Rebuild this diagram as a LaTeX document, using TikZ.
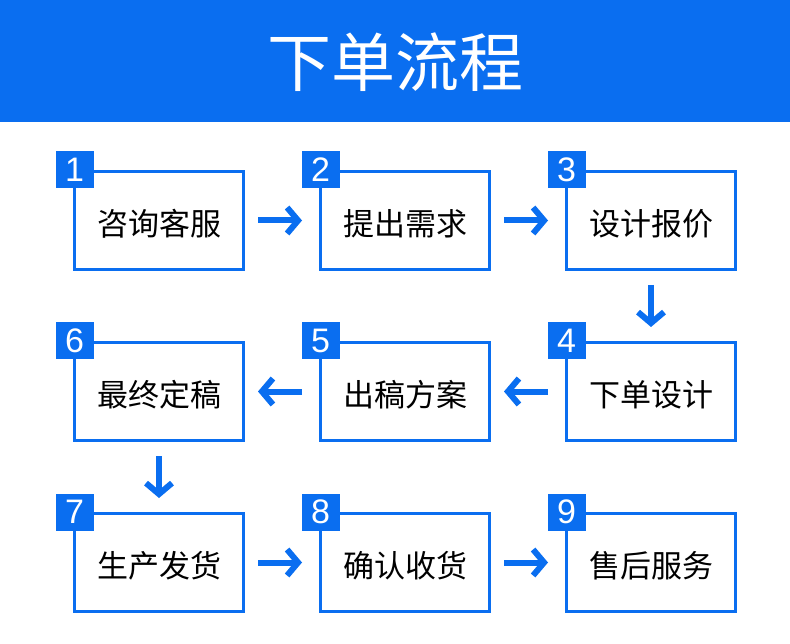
\documentclass[tikz,border=0pt]{standalone}
\usepackage{fontspec}
\setmainfont{Noto Sans CJK SC}
\newfontfamily\numfont{Liberation Sans}
\usetikzlibrary{arrows.meta,positioning}
\definecolor{Blue}{HTML}{0A6EF0}

\begin{document}
\begin{tikzpicture}[x=1pt,y=-1pt,
    b/.style={draw=Blue,line width=3pt,minimum width=169pt,minimum height=98pt,inner sep=0pt,text height=30pt,text depth=0pt,font=\fontsize{31}{31}\selectfont},
    num/.style={fill=Blue,text=white,minimum width=38pt,minimum height=37pt,inner sep=0pt,font=\numfont\fontsize{34}{34}\selectfont},
    a/.style={-{Straight Barb[length=11pt,width=26pt]},line width=6pt,draw=Blue},
    node distance=70pt and 74pt]
    \useasboundingbox (0,0) rectangle (790,644);
    \fill[Blue] (0,0) rectangle (790,122);
    \node[text=white,font=\fontsize{64}{64}\selectfont] (title) at (395,62) {下单流程};
    \node[b] (b1) at (159,220.5) {咨询客服};
    \node[b,right=of b1] (b2) {提出需求};
    \node[b,right=of b2] (b3) {设计报价};
    \node[b,below=of b3] (b4) {下单设计};
    \node[b,left=of b4] (b5) {出稿方案};
    \node[b,left=of b5] (b6) {最终定稿};
    \node[b,below=of b6] (b7) {生产发货};
    \node[b,right=of b7] (b8) {确认收货};
    \node[b,right=of b8] (b9) {售后服务};
    \foreach \i in {1,...,9}
      \node[num] (n\i) at ([xshift=1.5pt]b\i.north west) {\i};
    \draw[a,shorten <=13pt,shorten >=17pt] (b1) -- (b2);
    \draw[a,shorten <=13pt,shorten >=17pt] (b2) -- (b3);
    \draw[a,shorten <=14pt,shorten >=14pt] (b3) -- (b4);
    \draw[a,shorten <=17pt,shorten >=13pt] (b4) -- (b5);
    \draw[a,shorten <=17pt,shorten >=13pt] (b5) -- (b6);
    \draw[a,shorten <=14pt,shorten >=14pt] (b6) -- (b7);
    \draw[a,shorten <=13pt,shorten >=17pt] (b7) -- (b8);
    \draw[a,shorten <=13pt,shorten >=17pt] (b8) -- (b9);
  \end{tikzpicture}
\end{document}
